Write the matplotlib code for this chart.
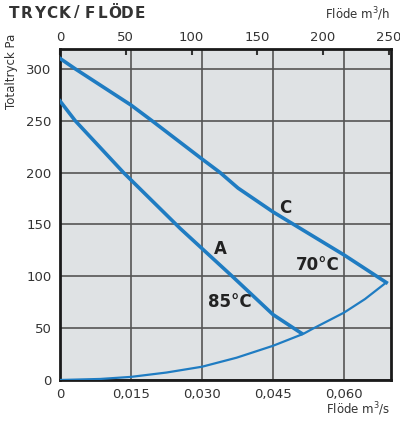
import matplotlib
matplotlib.use("Agg")
from matplotlib import pyplot as plt

# === Data ===
# flow in m3/s, total pressure in Pa
c_flow = [0, 0.0032, 0.015, 0.0194, 0.030, 0.0338, 0.0376, 0.045, 0.060, 0.0689]
c_pres = [310, 300, 265, 250, 213, 200, 185, 162, 120.5, 94]

a_flow = [0, 0.0032, 0.0134, 0.0254, 0.0366, 0.045, 0.0510]
a_pres = [269, 250, 200, 146, 99, 63, 45]

sys_flow = [0, 0.0085, 0.015, 0.0225, 0.030, 0.0373, 0.045, 0.0514, 0.0532,
            0.060, 0.0644, 0.0689]
sys_pres = [0, 1, 3, 7.2, 12.8, 21.5, 33, 44.5, 49, 65, 78, 94]

x_ticks = [0, 0.015, 0.030, 0.045, 0.060]
x_labels = ["0", "0,015", "0,030", "0,045", "0,060"]
y_ticks = [0, 50, 100, 150, 200, 250, 300]
top_ticks = [0, 50, 100, 150, 200, 250]

blue = "#1f7cc2"
txt = "#333333"

fig = plt.figure(figsize=(4.0, 4.21), dpi=100)
ax = fig.add_axes([0.15, 0.0974, 0.8275, 0.786])
ax.set_facecolor("#dfe2e4")

ax.plot(c_flow, c_pres, color=blue, lw=2.6, solid_joinstyle="round", zorder=3)
ax.plot(a_flow, a_pres, color=blue, lw=2.6, solid_joinstyle="round", zorder=3)
ax.plot(sys_flow, sys_pres, color=blue, lw=1.6, solid_joinstyle="round", zorder=3)

ax.set_xlim(0, 0.0699)
ax.set_ylim(0, 319)

ax.set_xticks(x_ticks)
ax.set_xticklabels(x_labels)
ax.set_yticks(y_ticks)
ax.tick_params(length=0, labelsize=9.5, labelcolor=txt, pad=6)
ax.grid(True, color="#555555", lw=1.2)
ax.set_axisbelow(True)
for s in ax.spines.values():
    s.set_linewidth(2)
    s.set_color("#1a1a1a")

# top axis in m3/h
top = ax.secondary_xaxis("top", functions=(lambda q: q * 3600, lambda h: h / 3600))
top.set_xticks(top_ticks)
top.tick_params(direction="in", length=4, width=1.5, color="#333333",
                labelsize=9.5, labelcolor=txt, pad=4)

# curve labels
ax.text(0.0475, 166, "C", fontsize=12, fontweight="bold", color="#222222",
        ha="center", va="center")
ax.text(0.0338, 126, "A", fontsize=12, fontweight="bold", color="#222222",
        ha="center", va="center")
ax.text(0.0545, 111, "70°C", fontsize=12, fontweight="bold", color="#222222",
        ha="center", va="center")
ax.text(0.0359, 75, "85°C", fontsize=12, fontweight="bold", color="#222222",
        ha="center", va="center")

# title, letter spaced
title = "TRYCK/FLÖDE"
for i, ch in enumerate(title):
    fig.text((14 + i * 12.6) / 400, 1 - 13 / 421, ch, fontsize=11, fontweight="bold",
             color="#333333", ha="center", va="center")

fig.text(390 / 400, 1 - 14 / 421, "Flöde m$^3$/h", fontsize=8.5, color=txt,
         ha="right", va="center")
fig.text(390 / 400, 1 - 409 / 421, "Flöde m$^3$/s", fontsize=8.5, color=txt,
         ha="right", va="center")
fig.text(12 / 400, 1 - 71 / 421, "Totaltryck Pa", fontsize=8.5, color=txt,
         rotation=90, ha="center", va="center")

fig.savefig("out.png", dpi=100)
